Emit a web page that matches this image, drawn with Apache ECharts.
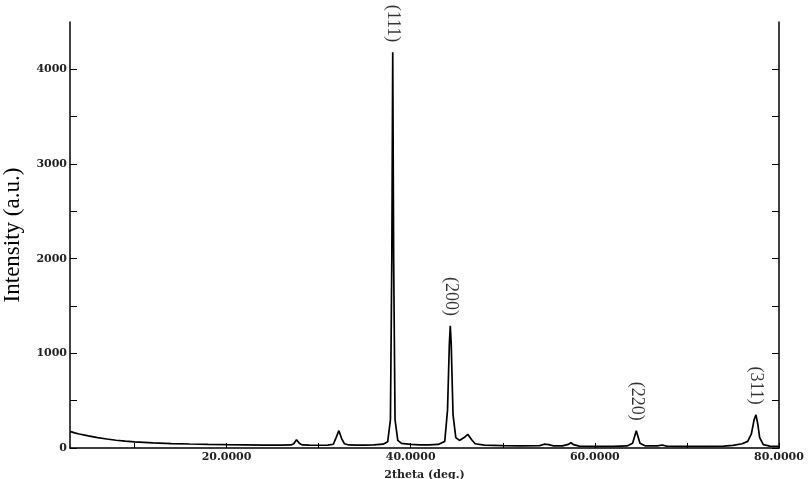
<!DOCTYPE html>
<html>
<head>
<meta charset="utf-8">
<script src="https://cdn.jsdelivr.net/npm/echarts@6/dist/echarts.min.js"></script>
<style>
  html, body { margin: 0; padding: 0; background: #fff; }
  #xrd { width: 809px; height: 479px; }
</style>
</head>
<body>
<div id="xrd"></div>
<script>
// 2theta (deg.) / intensity
const twoTheta = [
  3.0, 3.5, 4, 5, 6, 7, 8, 9, 10, 12, 14, 16, 18, 20, 22, 24, 26,
  27.0, 27.3, 27.6, 27.9, 28.2, 29, 30, 31, 31.6, 31.9, 32.2, 32.5, 32.8, 33.3,
  34, 35, 36, 37, 37.5, 37.8, 37.95, 38.05, 38.15, 38.3, 38.6, 39, 40, 41, 42,
  43, 43.7, 44.0, 44.2, 44.3, 44.4, 44.6, 44.9, 45.3, 45.8, 46.2, 46.6, 47, 48,
  50, 52, 54, 54.5, 54.7, 55.0, 55.5, 56.5, 57.1, 57.4, 57.7, 58.3, 60, 62,
  63.5, 64.1, 64.5, 64.9, 65.5, 66.8, 67.3, 67.8, 70, 72, 74, 75, 76, 76.6,
  77.0, 77.3, 77.5, 77.7, 77.9, 78.3, 79, 80
]
const intensity = [
  175, 160, 148, 128, 110, 95, 82, 72, 64, 54, 47, 42, 38, 35, 33, 31, 30,
  32, 45, 88, 50, 33, 30, 29, 30, 40, 110, 183, 100, 45, 32,
  30, 30, 32, 40, 65, 300, 2000, 4180, 2000, 300, 80, 48, 38, 34, 33,
  38, 70, 400, 1100, 1290, 1100, 350, 110, 80, 110, 145, 90, 45, 30,
  25, 22, 25, 40, 50, 35, 22, 22, 38, 55, 35, 20, 18, 18,
  22, 50, 183, 50, 22, 22, 32, 20, 18, 18, 20, 28, 45, 70,
  150, 300, 350, 250, 110, 35, 20, 18
]

// hkl peak labels
const hklNames = ['(111)', '(200)', '(220)', '(311)']
const hklPos = [38.05, 44.3, 64.5, 77.5]
const hklVal = [4180, 1290, 183, 350]

const xLabels = [20, 40, 60, 80]
const xTicks = [10, 20, 30, 40, 50, 60, 70, 80]
const yTicks = [0, 500, 1000, 1500, 2000, 2500, 3000, 3500, 4000]

const chart = echarts.init(document.getElementById('xrd'))

const tickFont = {
  fontFamily: 'DejaVu Serif',
  fontWeight: 'bold',
  fontSize: 11,
  color: '#222'
}

const option = {
  animation: false,
  grid: { left: 70, right: 30, top: 22, bottom: 31, outerBoundsMode: 'none', containLabel: false },
  xAxis: {
    type: 'value',
    min: 3,
    max: 80,
    name: '2theta (deg.)',
    nameLocation: 'middle',
    nameGap: 22,
    nameTextStyle: { fontFamily: 'DejaVu Serif', fontWeight: 'bold', fontSize: 11, color: '#222' },
    axisLine: { lineStyle: { color: '#000', width: 1.5 } },
    axisTick: { inside: true, length: 5, customValues: xTicks, lineStyle: { color: '#000' } },
    axisLabel: Object.assign({
      customValues: xLabels,
      margin: 4,
      formatter: v => v.toFixed(4)
    }, tickFont),
    splitLine: { show: false }
  },
  yAxis: [
    {
      type: 'value',
      min: 0,
      max: 4500,
      interval: 500,
      name: 'Intensity (a.u.)',
      nameLocation: 'middle',
      nameGap: 46,
      nameTextStyle: { fontFamily: 'Liberation Serif', fontSize: 23, color: '#000' },
      axisLine: { show: true, lineStyle: { color: '#000', width: 1.5 } },
      axisTick: { inside: true, length: 7, customValues: yTicks, lineStyle: { color: '#000' } },
      axisLabel: Object.assign({
        margin: 3,
        formatter: v => (v % 1000 === 0 && v <= 4000) ? String(v) : ''
      }, tickFont),
      splitLine: { show: false }
    },
    {
      type: 'value',
      position: 'right',
      min: 0,
      max: 4500,
      interval: 500,
      axisLine: { show: true, lineStyle: { color: '#000', width: 1.5 } },
      axisTick: { inside: true, length: 7, customValues: yTicks, lineStyle: { color: '#000' } },
      axisLabel: { show: false },
      splitLine: { show: false }
    }
  ],
  series: [
    {
      type: 'line',
      data: twoTheta.map((t, i) => [t, intensity[i]]),
      showSymbol: false,
      lineStyle: { color: '#000', width: 1.7 },
      z: 3
    },
    {
      type: 'scatter',
      symbolSize: 0,
      data: hklNames.map((n, i) => ({ name: n, value: [hklPos[i], hklVal[i]] })),
      label: {
        show: true,
        position: 'top',
        distance: 10,
        rotate: -90,
        align: 'right',
        verticalAlign: 'middle',
        formatter: p => p.name,
        fontFamily: 'Liberation Serif',
        fontSize: 18,
        color: '#000'
      },
      z: 4
    }
  ]
}

chart.setOption(option)

window.addEventListener('resize', () => {
  chart.resize()
})
</script>
</body>
</html>
